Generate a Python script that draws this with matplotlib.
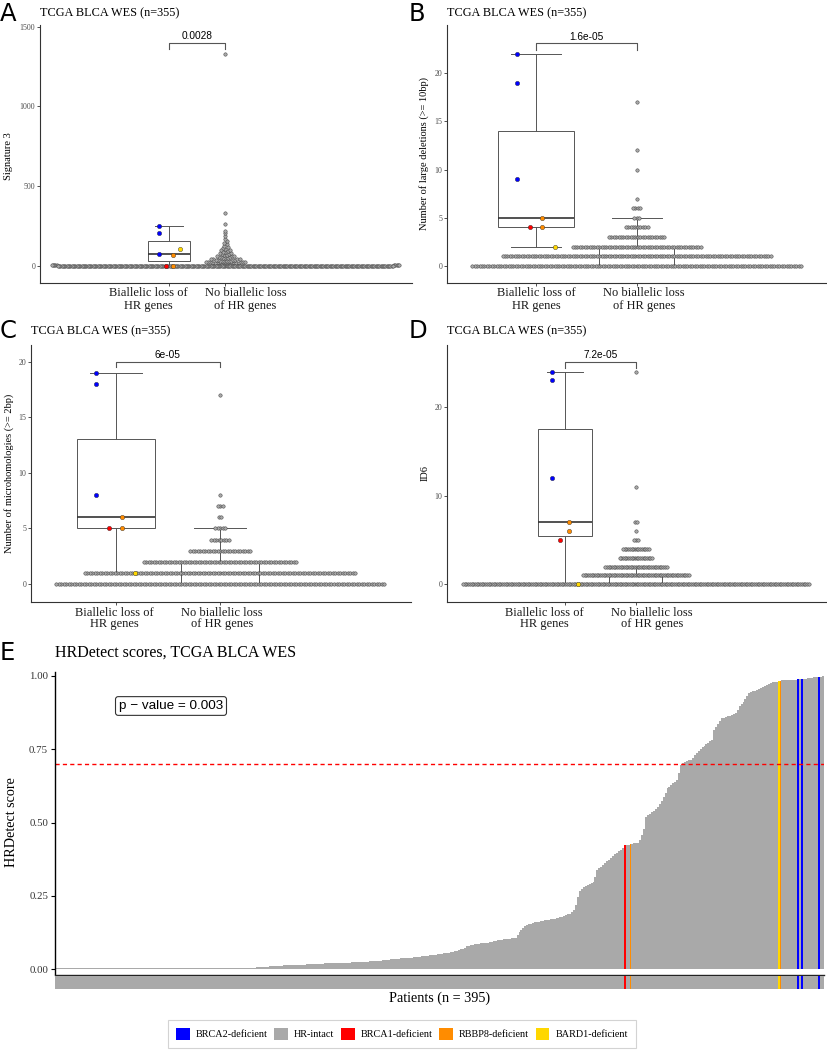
import numpy as np
import matplotlib
matplotlib.use('Agg')
import matplotlib.pyplot as plt
from matplotlib.patches import Patch

plt.rcParams['font.family'] = 'Liberation Serif'

W, H = 827, 1050

# the 7 tumours with biallelic HR loss, same order in every panel
bi_genes = ['BRCA2', 'BRCA2', 'BRCA2', 'BRCA1', 'RBBP8', 'RBBP8', 'BARD1']
gene_order = ['BRCA2', 'BRCA1', 'RBBP8', 'BARD1']
gene_colors = ['#0000FF', '#FF0000', '#FF8C00', '#FFD700']

# A - signature 3
sig3_bi = [250, 210, 77, 0, 69, 0, 110]
sig3_nobi_nonzero = [
    4, 5, 5, 6, 6, 7, 7, 8, 8, 9,
    11, 12, 14, 15, 16, 17, 18, 18, 19, 20, 21, 22, 22, 23, 24, 25, 26, 27, 28,
    29, 30, 31, 32, 33, 34, 36, 37, 39, 40, 42, 43, 45, 46,
    48, 50, 52, 54, 56, 58, 60, 62, 65,
    67, 70, 73, 76, 79, 83,
    86, 90, 94, 98, 102,
    106, 112, 119,
    127, 136,
    145, 155,
    170, 188, 205, 219, 265, 333, 1330]
sig3_nobi_zeros = 271

# B - large deletions
largedel_bi = [22, 19, 9, 4, 5, 4, 2]
largedel_levels = [0, 1, 2, 3, 4, 5, 6, 7, 10, 12, 17]
largedel_counts = [137, 112, 54, 24, 10, 3, 4, 1, 1, 1, 1]

# C - microhomologies
mh_bi = [19, 18, 8, 5, 6, 5, 1]
mh_levels = [0, 1, 2, 3, 4, 5, 6, 7, 8, 17]
mh_counts = [132, 109, 62, 25, 8, 5, 2, 3, 1, 1]

# D - ID6
id6_bi = [24, 23, 12, 5, 7, 6, 0]
id6_levels = [0, 1, 2, 3, 4, 5, 6, 7, 11, 24]
id6_counts = [204, 63, 37, 20, 16, 3, 1, 2, 1, 1]

pvals = ['0.0028', '1.6e-05', '6e-05', '7.2e-05']
xlabels = ['Biallelic loss of\nHR genes', 'No biallelic loss\nof HR genes']

# E - HRDetect scores, sorted
hrd_scores = [
    0.003, 0.003, 0.003, 0.003, 0.003, 0.003, 0.003, 0.003, 0.003, 0.003, 0.003, 0.003, 0.003, 0.003, 0.003, 0.003, 0.003, 0.003, 0.003, 0.003,
    0.003, 0.003, 0.003, 0.003, 0.003, 0.003, 0.003, 0.003, 0.003, 0.003, 0.003, 0.003, 0.003, 0.003, 0.003, 0.003, 0.003, 0.003, 0.003, 0.003,
    0.003, 0.003, 0.003, 0.003, 0.003, 0.003, 0.003, 0.003, 0.003, 0.003, 0.003, 0.003, 0.003, 0.003, 0.003, 0.003, 0.003, 0.003, 0.003, 0.003,
    0.003, 0.003, 0.003, 0.003, 0.003, 0.003, 0.003, 0.003, 0.003, 0.003, 0.003, 0.003, 0.003, 0.003, 0.003, 0.003, 0.003, 0.003, 0.003, 0.003,
    0.003, 0.003, 0.003, 0.003, 0.003, 0.004, 0.004, 0.004, 0.004, 0.004, 0.004, 0.004, 0.004, 0.004, 0.004, 0.005, 0.005, 0.005, 0.005, 0.005,
    0.005, 0.006, 0.006, 0.007, 0.007, 0.008, 0.008, 0.008, 0.009, 0.009, 0.010, 0.010, 0.011, 0.011, 0.011, 0.012, 0.012, 0.013, 0.013, 0.014,
    0.014, 0.014, 0.015, 0.015, 0.015, 0.015, 0.016, 0.016, 0.016, 0.017, 0.017, 0.017, 0.018, 0.018, 0.018, 0.019, 0.019, 0.019, 0.020, 0.020,
    0.020, 0.020, 0.020, 0.021, 0.021, 0.021, 0.022, 0.022, 0.022, 0.023, 0.023, 0.023, 0.024, 0.024, 0.024, 0.025, 0.025, 0.025, 0.026, 0.026,
    0.026, 0.027, 0.027, 0.028, 0.028, 0.029, 0.030, 0.030, 0.031, 0.032, 0.032, 0.033, 0.034, 0.034, 0.035, 0.036, 0.036, 0.037, 0.038, 0.038,
    0.039, 0.039, 0.040, 0.040, 0.041, 0.041, 0.042, 0.043, 0.044, 0.045, 0.046, 0.047, 0.048, 0.048, 0.049, 0.050, 0.051, 0.052, 0.053, 0.054,
    0.055, 0.056, 0.057, 0.058, 0.060, 0.062, 0.064, 0.066, 0.068, 0.070, 0.074, 0.078, 0.080, 0.082, 0.084, 0.085, 0.086, 0.087, 0.088, 0.088,
    0.089, 0.090, 0.091, 0.092, 0.094, 0.096, 0.098, 0.099, 0.100, 0.101, 0.102, 0.103, 0.104, 0.105, 0.106, 0.107, 0.108, 0.118, 0.126, 0.134,
    0.142, 0.146, 0.150, 0.153, 0.156, 0.158, 0.160, 0.161, 0.162, 0.163, 0.165, 0.167, 0.168, 0.169, 0.170, 0.171, 0.173, 0.174, 0.176, 0.178,
    0.180, 0.182, 0.185, 0.188, 0.190, 0.196, 0.202, 0.220, 0.245, 0.268, 0.275, 0.280, 0.284, 0.287, 0.290, 0.293, 0.296, 0.315, 0.339, 0.345,
    0.350, 0.356, 0.362, 0.368, 0.373, 0.380, 0.386, 0.392, 0.398, 0.404, 0.408, 0.414, 0.424, 0.424, 0.425, 0.427, 0.428, 0.429, 0.430, 0.432,
    0.440, 0.458, 0.480, 0.520, 0.525, 0.530, 0.535, 0.540, 0.548, 0.554, 0.562, 0.575, 0.588, 0.600, 0.617, 0.622, 0.628, 0.634, 0.640, 0.645,
    0.670, 0.697, 0.702, 0.706, 0.710, 0.712, 0.714, 0.722, 0.730, 0.736, 0.743, 0.750, 0.757, 0.762, 0.767, 0.772, 0.777, 0.782, 0.816, 0.826,
    0.836, 0.846, 0.856, 0.858, 0.860, 0.862, 0.864, 0.866, 0.869, 0.873, 0.885, 0.898, 0.905, 0.912, 0.922, 0.932, 0.941, 0.945, 0.948, 0.950,
    0.952, 0.955, 0.958, 0.962, 0.966, 0.970, 0.974, 0.977, 0.979, 0.980, 0.981, 0.984, 0.984, 0.985, 0.985, 0.986, 0.986, 0.987, 0.987, 0.988,
    0.988, 0.989, 0.989, 0.990, 0.990, 0.991, 0.992, 0.993, 0.994, 0.995, 0.996, 0.997, 0.998, 0.998, 0.999]
brca2_idx = [381, 383, 392]
brca1_idx = [292]
rbbp8_idx = [295, 372]
bard1_idx = [371]

status_names = ['BRCA2-deficient', 'HR-intact', 'BRCA1-deficient', 'RBBP8-deficient', 'BARD1-deficient']
status_colors = ['#0000FF', '#A9A9A9', '#FF0000', '#FF8C00', '#FFD700']


def to_fig(x0, y0, x1, y1):
    # pixel box (top-left origin) -> figure fraction
    return [x0 / W, 1 - y1 / H, (x1 - x0) / W, (y1 - y0) / H]


def swarm_x(vals, center, step, binw, maxw=None):
    # simple beeswarm: points in the same y bin are laid side by side around the centre
    vals = np.asarray(vals, float)
    xs = np.full(len(vals), float(center))
    rows = np.round(vals / binw).astype(int)
    for r in np.unique(rows):
        idx = np.where(rows == r)[0]
        idx = idx[np.argsort(vals[idx], kind='stable')]
        n = len(idx)
        s = step
        if maxw is not None and n > 1:
            s = min(step, maxw / (n - 1))
        pos = (np.arange(n) - (n - 1) / 2) * s
        pos = pos[np.argsort(np.abs(pos), kind='stable')]
        xs[idx] = center + pos
    return xs


dodge = {g: (k - 1.5) * 0.125 for k, g in enumerate(gene_order)}

fig = plt.figure(figsize=(W / 100, H / 100), dpi=100)


def draw_panel(px, bi_vals, nobi_vals, xlim, ylim, yticks, ylabel, ylab_xy, pval, bracket,
               xlab_x, xlab_y, step, binw, maxw=None):
    ax = fig.add_axes(to_fig(*px))
    ax.boxplot([bi_vals, nobi_vals], positions=[1, 2], widths=0.75, capwidths=0.5,
               showfliers=False, patch_artist=True, zorder=1,
               boxprops=dict(facecolor='white', edgecolor='#555555', linewidth=0.7),
               whiskerprops=dict(color='#555555', linewidth=0.7),
               capprops=dict(color='#555555', linewidth=0.7),
               medianprops=dict(color='#333333', linewidth=1.2))
    xs = swarm_x(nobi_vals, 2, step, binw, maxw)
    ax.scatter(xs, nobi_vals, s=6, c='#A8A8A8', edgecolors='#404040', linewidths=0.35, zorder=2)
    for g, c in zip(gene_order, gene_colors):
        v = [b for b, gg in zip(bi_vals, bi_genes) if gg == g]
        ax.scatter(np.full(len(v), 1 + dodge[g]), v, s=10, c=c, edgecolors='#303030',
                   linewidths=0.3, zorder=3)

    # significance bracket
    y0, y1 = bracket
    ax.plot([1, 1, 2, 2], [y0, y1, y1, y0], color='#555555', lw=0.8, clip_on=False)
    ax.annotate(pval, xy=(1.5, y1), xytext=(0, 1.2), textcoords='offset points',
                ha='center', va='bottom', fontsize=7.3, family='Liberation Sans')

    ax.set_xlim(*xlim)
    ax.set_ylim(*ylim)
    ax.set_yticks(yticks)
    ax.set_xticks([1, 2])
    ax.set_xticklabels(['', ''])
    for sp in ['top', 'right']:
        ax.spines[sp].set_visible(False)
    for sp in ['left', 'bottom']:
        ax.spines[sp].set_color('#333333')
        ax.spines[sp].set_linewidth(0.8)
    ax.tick_params(axis='y', labelsize=5.7, labelcolor='#4d4d4d', length=2, width=0.6,
                   color='#333333', pad=1.5)
    ax.tick_params(axis='x', length=2, width=0.6, color='#333333')
    # category labels sit where the reference puts them (shifted apart in narrow panels)
    for lab, lx in zip(xlabels, xlab_x):
        fig.text(lx / W, 1 - xlab_y / H, lab, ha='center', va='center', fontsize=9,
                 color='#1a1a1a', linespacing=1.0)
    fig.text(ylab_xy[0] / W, 1 - ylab_xy[1] / H, ylabel, rotation=90, ha='center',
             va='center', fontsize=7.5)
    return ax


sig3_nobi = sig3_nobi_nonzero + [0] * sig3_nobi_zeros
draw_panel((40, 25, 412, 283), sig3_bi, sig3_nobi, (-1.31, 5.33), (-106, 1510),
           [0, 500, 1000, 1500], 'Signature 3', (9, 156), pvals[0], (1360, 1398),
           (148.5, 245.5), 299.5, step=0.039, binw=18.8, maxw=6.2)
draw_panel((447, 25, 826, 283), largedel_bi, list(np.repeat(largedel_levels, largedel_counts)),
           (0.116, 3.88), (-1.76, 25.0), [0, 5, 10, 15, 20],
           'Number of large deletions (>= 10bp)', (424.5, 153), pvals[1], (22.45, 23.1),
           (536, 644), 299.5, step=0.024, binw=1)
draw_panel((31, 345, 411, 602), mh_bi, list(np.repeat(mh_levels, mh_counts)),
           (0.188, 3.83), (-1.62, 21.5), [0, 5, 10, 15, 20],
           'Number of microhomologies (>= 2bp)', (9, 473), pvals[2], (19.5, 20.0),
           (114, 222), 618.5, step=0.024, binw=1)
draw_panel((447, 345, 826, 602), id6_bi, list(np.repeat(id6_levels, id6_counts)),
           (-0.662, 4.68), (-1.99, 27.0), [0, 10, 20],
           'ID6', (425, 473), pvals[3], (24.4, 25.1),
           (544, 652), 618.5, step=0.024, binw=1)

for (x, y) in [(40, 13), (447, 13), (31, 331), (447, 331)]:
    fig.text(x / W, 1 - y / H, 'TCGA BLCA WES (n=355)', ha='left', va='center', fontsize=8.8)

for letter, (x, y) in zip('ABCDE', [(0, 14), (409, 14), (0, 331), (409, 331), (0, 653)]):
    fig.text(x / W, 1 - y / H, letter, ha='left', va='center', fontsize=17.5,
             family='DejaVu Sans')

# ---- panel E ----
n = len(hrd_scores)
status = ['HR-intact'] * n
for i in brca2_idx:
    status[i] = 'BRCA2-deficient'
for i in brca1_idx:
    status[i] = 'BRCA1-deficient'
for i in rbbp8_idx:
    status[i] = 'RBBP8-deficient'
for i in bard1_idx:
    status[i] = 'BARD1-deficient'
bar_colors = [status_colors[status_names.index(s)] for s in status]
xpos = np.arange(n)

ax_e = fig.add_axes(to_fig(55, 672, 824.3, 974.5))
ax_e.bar(xpos, hrd_scores, width=1.0, color=bar_colors, linewidth=0)
ax_e.axhline(0.70, color='#FF0000', lw=1.0, linestyle=(0, (3, 2.3)))
ax_e.set_xlim(-0.5, n - 0.5)
ax_e.set_ylim(-0.0177, 1.0136)
ax_e.set_yticks([0, 0.25, 0.5, 0.75, 1.0])
ax_e.set_yticklabels(['0.00', '0.25', '0.50', '0.75', '1.00'])
ax_e.set_xticks([])
for sp in ['top', 'right']:
    ax_e.spines[sp].set_visible(False)
ax_e.spines['left'].set_color('black')
ax_e.spines['left'].set_linewidth(1.0)
ax_e.spines['bottom'].set_color('#222222')
ax_e.spines['bottom'].set_linewidth(1.0)
ax_e.tick_params(axis='y', labelsize=7.8, labelcolor='#333333', length=3, width=0.8, pad=2)

ax_s = fig.add_axes(to_fig(55, 975.6, 824.3, 989))
ax_s.bar(xpos, np.ones(n), width=1.0, color=bar_colors, linewidth=0)
ax_s.set_xlim(-0.5, n - 0.5)
ax_s.set_ylim(0, 1)
ax_s.axis('off')

fig.text(55 / W, 1 - 653 / H, 'HRDetect scores, TCGA BLCA WES', ha='left', va='center',
         fontsize=11.5)
fig.text(12 / W, 1 - 822 / H, 'HRDetect score', rotation=90, ha='center', va='center',
         fontsize=10.2)
fig.text(440 / W, 1 - 998 / H, 'Patients (n = 395)', ha='center', va='center', fontsize=10.2)
fig.text(171 / W, 1 - 706 / H, 'p \u2212 value = 0.003', ha='center', va='center',
         fontsize=9.7, family='Liberation Sans',
         bbox=dict(boxstyle='round,pad=0.25,rounding_size=0.2', fc='white', ec='#333333', lw=0.8))

handles = [Patch(facecolor=c, edgecolor='none') for c in status_colors]
leg = fig.legend(handles, status_names, loc='center', bbox_to_anchor=(402 / W, 1 - 1034 / H),
                 ncol=5, fontsize=7.3, handlelength=1.35, handleheight=1.35, handletextpad=0.6,
                 columnspacing=0.65, borderpad=0.85, fancybox=False, frameon=True)
leg.get_frame().set_edgecolor('#c8c8c8')
leg.get_frame().set_linewidth(0.8)

fig.savefig('out.png', dpi=100)
